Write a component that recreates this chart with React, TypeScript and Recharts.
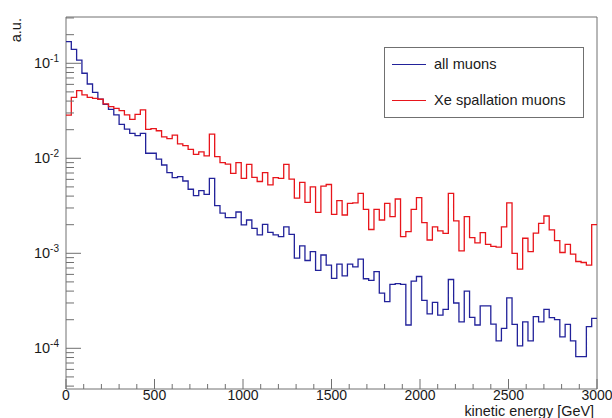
import React from "react";
import { LineChart, Line, XAxis, YAxis, ReferenceArea, Legend } from "recharts";

// histogram bins: 100 bins of 30 GeV from 0 to 3000 GeV
const BIN_WIDTH = 30;

const seriesNames = ["all muons", "Xe spallation muons"];

const allMuons = [
  0.169, 0.14, 0.108, 0.0785, 0.0605, 0.0495, 0.042, 0.037, 0.0328, 0.0286,
  0.0228, 0.0203, 0.0183, 0.0173, 0.0183, 0.0113, 0.0113, 0.0098, 0.0085, 0.00705,
  0.00625, 0.0064, 0.00577, 0.00472, 0.00404, 0.00456, 0.00418, 0.00616, 0.00318, 0.00265,
  0.00237, 0.00237, 0.00272, 0.00199, 0.00224, 0.00183, 0.00156, 0.00202, 0.00166, 0.00156,
  0.0015, 0.0019, 0.00158, 0.00089, 0.0012, 0.00084, 0.00104, 0.00066, 0.00096, 0.00075,
  0.000545, 0.00077, 0.00058, 0.00077, 0.00072, 0.00087, 0.00054, 0.00052, 0.00064, 0.00038,
  0.00031, 0.00047, 0.00048, 0.00047, 0.000176, 0.00051, 0.00057, 0.00032, 0.00023, 0.000305,
  0.000224, 0.000257, 0.00053, 0.0003, 0.00019, 0.0004, 0.000212, 0.000176, 0.00028, 0.00028,
  0.00018, 0.00012, 0.000162, 0.00034, 0.000179, 0.000106, 0.00019, 0.00012, 0.000215, 0.00019,
  0.000257, 0.00021, 0.0002, 0.000132, 0.000179, 0.00012, 0.0000817, 0.0000817, 0.000169, 0.000207,
];

const xeSpallationMuons = [
  0.0285, 0.0438, 0.0515, 0.0464, 0.0438, 0.0428, 0.0418, 0.0373, 0.0349, 0.0336,
  0.0317, 0.0286, 0.0257, 0.029, 0.0323, 0.0202, 0.0205, 0.0195, 0.0168, 0.0161,
  0.0175, 0.0142, 0.0136, 0.0124, 0.011, 0.0117, 0.0106, 0.018, 0.0104, 0.009,
  0.0087, 0.00695, 0.009, 0.00616, 0.00865, 0.0063, 0.0057, 0.00705, 0.00525, 0.00625,
  0.00616, 0.00865, 0.00605, 0.0038, 0.00558, 0.00344, 0.005, 0.0027, 0.0051, 0.0053,
  0.00257, 0.00358, 0.00253, 0.00336, 0.0034, 0.00428, 0.0029, 0.00178, 0.0029, 0.00224,
  0.00336, 0.00243, 0.00373, 0.0015, 0.00169, 0.0029, 0.00385, 0.0021, 0.00138, 0.0019,
  0.00172, 0.00162, 0.00428, 0.00219, 0.00106, 0.00243, 0.00146, 0.00129, 0.00165, 0.00124,
  0.00118, 0.00116, 0.0019, 0.0034, 0.001, 0.00068, 0.00144, 0.00104, 0.00163, 0.00207,
  0.00247, 0.00176, 0.00136, 0.00102, 0.00124, 0.00098, 0.00082, 0.0008, 0.00075, 0.002,
];

const xMajorTicks = [0, 500, 1000, 1500, 2000, 2500, 3000];
const xMinorTicks = [
  100, 200, 300, 400, 600, 700, 800, 900, 1100, 1200, 1300, 1400,
  1600, 1700, 1800, 1900, 2100, 2200, 2300, 2400, 2600, 2700, 2800, 2900,
];
const yMajorTicks = [1e-4, 1e-3, 1e-2, 1e-1];
const yMinorTicks = [
  4e-5, 5e-5, 6e-5, 7e-5, 8e-5, 9e-5,
  2e-4, 3e-4, 4e-4, 5e-4, 6e-4, 7e-4, 8e-4, 9e-4,
  2e-3, 3e-3, 4e-3, 5e-3, 6e-3, 7e-3, 8e-3, 9e-3,
  2e-2, 3e-2, 4e-2, 5e-2, 6e-2, 7e-2, 8e-2, 9e-2,
  2e-1, 3e-1,
];

const Y_MIN = 3.73e-5;
const Y_MAX = 0.307;

const BLUE = "#22229a";
const RED = "#e8151b";
const AXIS = "#707070";
const TEXT = "#1a1a1a";
const FONT = "'Liberation Sans', Arial, Helvetica, sans-serif";

const histData = allMuons.map((v, i) => ({
  energy: i * BIN_WIDTH,
  all: v,
  xe: xeSpallationMuons[i],
}));
// closing edge of the last bin
histData.push({
  energy: allMuons.length * BIN_WIDTH,
  all: allMuons[allMuons.length - 1],
  xe: xeSpallationMuons[xeSpallationMuons.length - 1],
});

function XTick({ x, y, payload }: any) {
  const major = xMajorTicks.includes(payload.value);
  return (
    <g>
      <line x1={x} x2={x} y1={y} y2={y - (major ? 10 : 5)} stroke={AXIS} />
      {major && (
        <text x={x} y={y + 11} textAnchor="middle" fontSize={14} fill={TEXT} fontFamily={FONT}>
          {payload.value}
        </text>
      )}
    </g>
  );
}

function YTick({ x, y, payload }: any) {
  const major = yMajorTicks.includes(payload.value);
  const exp = Math.round(Math.log10(payload.value));
  return (
    <g>
      <line x1={x} x2={x + (major ? 15 : 8)} y1={y} y2={y} stroke={AXIS} />
      {major && (
        <text x={x - 7} y={y + 5} textAnchor="end" fontSize={14.5} fill={TEXT} fontFamily={FONT}>
          10
          <tspan dy={-6} fontSize={10}>
            {exp}
          </tspan>
        </text>
      )}
    </g>
  );
}

function XTitle({ viewBox }: any) {
  return (
    <text
      x={viewBox.x + viewBox.width - 3}
      y={viewBox.y + 27}
      textAnchor="end"
      fontSize={14.4}
      fill={TEXT}
      fontFamily={FONT}
    >
      kinetic energy [GeV]
    </text>
  );
}

function YTitle({ viewBox }: any) {
  const x = viewBox.x + 20.5;
  const y = viewBox.y + 1;
  return (
    <text
      x={x}
      y={y}
      transform={`rotate(-90 ${x} ${y})`}
      textAnchor="end"
      fontSize={14.6}
      fill={TEXT}
      fontFamily={FONT}
    >
      a.u.
    </text>
  );
}

function LegendBox({ payload }: any) {
  const items = [...(payload || [])].sort(
    (a: any, b: any) => seriesNames.indexOf(a.value) - seriesNames.indexOf(b.value)
  );
  return (
    <div
      style={{
        position: "relative",
        width: 200,
        height: 71,
        boxSizing: "border-box",
        border: `1px solid ${AXIS}`,
        background: "#fff",
        fontFamily: FONT,
        fontSize: 14.6,
        color: TEXT,
      }}
    >
      {items.map((p: any, i: number) => (
        <div
          key={p.value}
          style={{
            position: "absolute",
            left: 7,
            top: 6 + i * 36,
            height: 20,
            display: "flex",
            alignItems: "center",
            whiteSpace: "nowrap",
          }}
        >
          <span style={{ display: "inline-block", width: 34, borderTop: `1.3px solid ${p.color}`, marginRight: 8 }} />
          <span>{p.value}</span>
        </div>
      ))}
    </div>
  );
}

export default function App() {
  return (
    <div style={{ width: 612, height: 418, background: "#fff" }}>
      <style>{"body{margin:0}"}</style>
      <LineChart
        width={612}
        height={418}
        data={histData}
        margin={{ top: 17, right: 15, bottom: 0, left: 0 }}
      >
        <XAxis
          dataKey="energy"
          type="number"
          domain={[0, 3000]}
          allowDataOverflow
          ticks={[...xMajorTicks, ...xMinorTicks].sort((a, b) => a - b)}
          interval={0}
          tick={<XTick />}
          tickLine={false}
          axisLine={false}
          tickSize={0}
          tickMargin={0}
          height={29}
          label={{ content: <XTitle /> }}
        />
        <YAxis
          scale="log"
          domain={[Y_MIN, Y_MAX]}
          allowDataOverflow
          ticks={[...yMajorTicks, ...yMinorTicks].sort((a, b) => a - b)}
          interval={0}
          tick={<YTick />}
          tickLine={false}
          axisLine={false}
          tickSize={0}
          tickMargin={0}
          width={66}
          label={{ content: <YTitle /> }}
        />
        <ReferenceArea
          x1={0}
          x2={3000}
          y1={Y_MIN}
          y2={Y_MAX}
          fill="none"
          stroke={AXIS}
          strokeWidth={1}
          ifOverflow="visible"
        />
        <Line
          dataKey="all"
          name={seriesNames[0]}
          type="stepAfter"
          stroke={BLUE}
          strokeWidth={1.3}
          dot={false}
          activeDot={false}
          isAnimationActive={false}
        />
        <Line
          dataKey="xe"
          name={seriesNames[1]}
          type="stepAfter"
          stroke={RED}
          strokeWidth={1.3}
          dot={false}
          activeDot={false}
          isAnimationActive={false}
        />
        <Legend
          layout="horizontal"
          verticalAlign="middle"
          align="center"
          content={<LegendBox />}
          wrapperStyle={{ left: 384, top: 47, width: 200, height: 71 }}
        />
      </LineChart>
    </div>
  );
}
